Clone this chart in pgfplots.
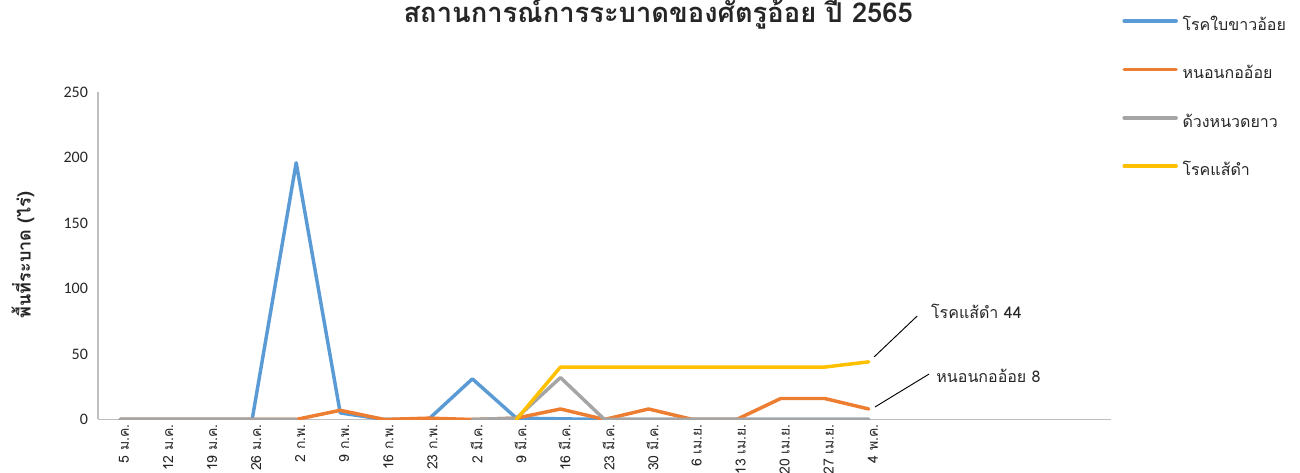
\documentclass[border=0pt]{standalone}
\usepackage{fontspec}
\setmainfont[Script=Thai]{Loma}
\newfontfamily\carlito{Carlito}
\usepackage{pgfplots}
\pgfplotsset{compat=1.18}
\definecolor{sBlue}{HTML}{5B9BD5}
\definecolor{sOrange}{HTML}{ED7D31}
\definecolor{sGray}{HTML}{A5A5A5}
\definecolor{sYellow}{HTML}{FFC000}
\definecolor{axisc}{HTML}{BFBFBF}
\definecolor{txt}{HTML}{262626}
\begin{document}
\begin{tikzpicture}
\begin{axis}[
  at={(73.5pt,39.4pt)}, anchor=south west,
  scale only axis, width=759.75pt, height=245.6pt,
  xmin=-0.5, xmax=22.5, ymin=0, ymax=250,
  axis x line*=bottom, axis y line*=left,
  axis line style={axisc, line width=0.8pt, -},
  major tick length=0pt,
  xtick={0,...,17},
  xticklabels={5 ม.ค., 12 ม.ค., 19 ม.ค., 26 ม.ค., 2 ก.พ., 9 ก.พ., 16 ก.พ., 23 ก.พ., 2 มี.ค., 9 มี.ค., 16 มี.ค., 23 มี.ค., 30 มี.ค., 6 เม.ย., 13 เม.ย., 20 เม.ย., 27 เม.ย., 4 พ.ค.},
  xticklabel style={rotate=90, anchor=east, yshift=-3pt, font=\fontsize{10.5}{12}\selectfont, text=txt},
  ytick={0,50,...,250},
  yticklabel style={xshift=-4pt, font=\carlito\fontsize{12}{13}\selectfont, text=txt},
  /pgf/number format/assume math mode=true,
  ylabel={พื้นที่ระบาด (ไร่)},
  ylabel style={at={(axis description cs:-0.074,0.502)}, anchor=center,
    font=\bfseries\fontsize{13.5}{15}\selectfont, text=txt},
  title={สถานการณ์การระบาดของศัตรูอ้อย ปี 2565},
  title style={at={(axis description cs:0.553,1.215)}, anchor=center,
    font=\bfseries\fontsize{20.5}{22}\selectfont, text=txt},
  unbounded coords=jump,
  every axis plot/.append style={line width=2.6pt, line join=round, line cap=round},
  legend style={at={(axis description cs:1.011,1.223)}, anchor=north west,
    draw=none, fill=none, inner sep=0pt, row sep=28pt,
    font=\fontsize{12}{14}\selectfont, text=txt,
    nodes={inner sep=0pt, text height=8pt, text depth=0pt}},
  legend cell align=left,
  legend image code/.code={\draw[#1, line cap=round] (0pt,3pt) -- (39pt,3pt);},
]
\addplot[sBlue] coordinates {(0,0) (1,0) (2,0) (3,0) (4,196) (5,5) (6,0) (7,0) (8,31) (9,1) (10,0.5) (11,0) (12,0) (13,0) (14,0) (15,0) (16,0) (17,0)};
\addlegendentry{\hspace{3.5pt}โรคใบขาวอ้อย}
\addplot[sOrange] coordinates {(0,0) (1,0) (2,0) (3,0) (4,0) (5,7) (6,0) (7,1) (8,0) (9,1) (10,8) (11,0) (12,8) (13,0) (14,0) (15,16) (16,16) (17,8)};
\addlegendentry{\hspace{3.5pt}หนอนกออ้อย}
\addplot[sGray] coordinates {(0,0) (1,0) (2,0) (3,0) (4,0) (5,nan) (6,nan) (7,nan) (8,0) (9,1) (10,32) (11,0) (12,0) (13,0) (14,0) (15,0) (16,0) (17,0)};
\addlegendentry{\hspace{3.5pt}ด้วงหนวดยาว}
\addplot[sYellow] coordinates {(9,0) (10,40) (11,40) (12,40) (13,40) (14,40) (15,40) (16,40) (17,44)};
\addlegendentry{\hspace{3.5pt}โรคแส้ดำ}
\draw[black, line width=0.7pt] (axis cs:17.12,47.7) -- (axis cs:18.10,79);
\draw[black, line width=0.7pt] (axis cs:17.14,9.5) -- (axis cs:18.37,34.7);
\node[anchor=west, font=\fontsize{12}{14}\selectfont, text=txt, inner sep=0pt] at (axis cs:18.41,82.8) {โรคแส้ดำ 44};
\node[anchor=west, font=\fontsize{12}{14}\selectfont, text=txt, inner sep=0pt] at (axis cs:18.53,33.2) {หนอนกออ้อย 8};
\end{axis}
\pgfresetboundingbox
\path[use as bounding box] (0pt,0pt) rectangle (975pt,354pt);
\end{tikzpicture}
\end{document}
